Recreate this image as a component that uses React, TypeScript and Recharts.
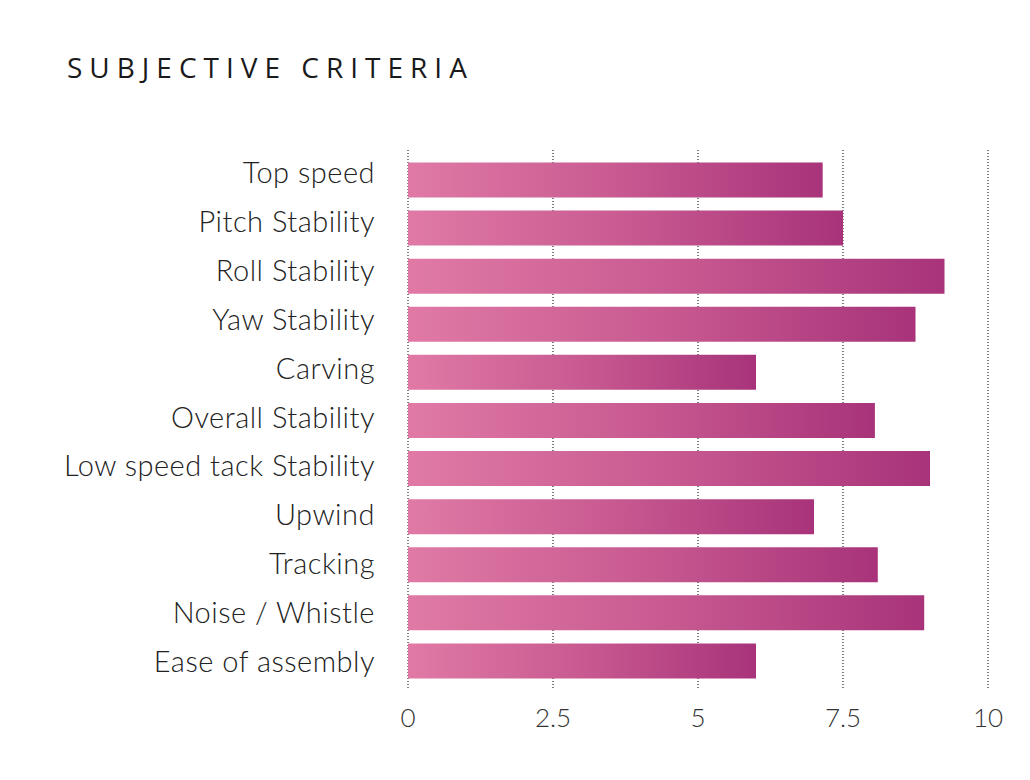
import {
	Bar,
	BarChart,
	CartesianGrid,
	XAxis,
	YAxis,
} from "recharts";

const criteria = [
	"Top speed",
	"Pitch Stability",
	"Roll Stability",
	"Yaw Stability",
	"Carving",
	"Overall Stability",
	"Low speed tack Stability",
	"Upwind",
	"Tracking",
	"Noise / Whistle",
	"Ease of assembly",
];

const scores = [7.15, 7.5, 9.25, 8.75, 6, 8.05, 9, 7, 8.1, 8.9, 6];

const xTicks = [0, 2.5, 5, 7.5, 10];

const data = criteria.map((name, i) => ({ name, score: scores[i] }));

const FONT = "Lato, 'Open Sans', sans-serif";

// label text sits a bit above the band centre
const CategoryTick = (props: any) => {
	const { x, y, payload } = props;
	return (
		<text
			x={x}
			y={y}
			dy={8.5}
			textAnchor="end"
			fill="#222"
			fontSize={29}
			fontFamily={FONT}
			fontWeight={300}
			letterSpacing={0.5}
		>
			{payload.value}
		</text>
	);
};

const ValueTick = (props: any) => {
	const { x, y, payload } = props;
	return (
		<text
			x={x}
			y={y}
			dy={38}
			textAnchor="middle"
			fill="#333"
			fontSize={26}
			fontFamily={FONT}
			fontWeight={300}
		>
			{payload.value}
		</text>
	);
};

export default function App() {
	return (
		<div
			style={{
				position: "absolute",
				left: 0,
				top: 0,
				width: 1030,
				height: 780,
				background: "#fff",
			}}
		>
			<div
				style={{
					position: "absolute",
					left: 67,
					top: 48,
					fontFamily: "'Open Sans', sans-serif",
					fontSize: 28,
					letterSpacing: 7,
					color: "#1a1a1a",
				}}
			>
				SUBJECTIVE CRITERIA
			</div>
			<BarChart
				width={1030}
				height={780}
				data={data}
				layout="vertical"
				margin={{ top: 150, right: 42, bottom: 62, left: 0 }}
			>
				<defs>
					<linearGradient id="barFill" x1="0" y1="0" x2="1" y2="0">
						<stop offset="0%" stopColor="#e07aa5" />
						<stop offset="50%" stopColor="#c85a91" />
						<stop offset="100%" stopColor="#a8337a" />
					</linearGradient>
				</defs>
				<CartesianGrid
					horizontal={false}
					stroke="#000"
					strokeDasharray="1 2"
				/>
				<XAxis
					type="number"
					domain={[0, 10]}
					ticks={xTicks}
					axisLine={false}
					tickLine={false}
					tickSize={0}
					tickMargin={1}
					height={30}
					tick={<ValueTick />}
				/>
				<YAxis
					yAxisId="labels"
					type="category"
					dataKey="name"
					width={408}
					axisLine={false}
					tickLine={false}
					tickSize={0}
					tickMargin={33}
					tick={<CategoryTick />}
				/>
				<YAxis
					yAxisId="bars"
					type="category"
					dataKey="name"
					hide
					width={0}
					padding={{ top: 5.5, bottom: 3.5 }}
				/>
				<Bar
					yAxisId="bars"
					dataKey="score"
					fill="url(#barFill)"
					barSize={35}
					isAnimationActive={false}
				/>
			</BarChart>
		</div>
	);
}
